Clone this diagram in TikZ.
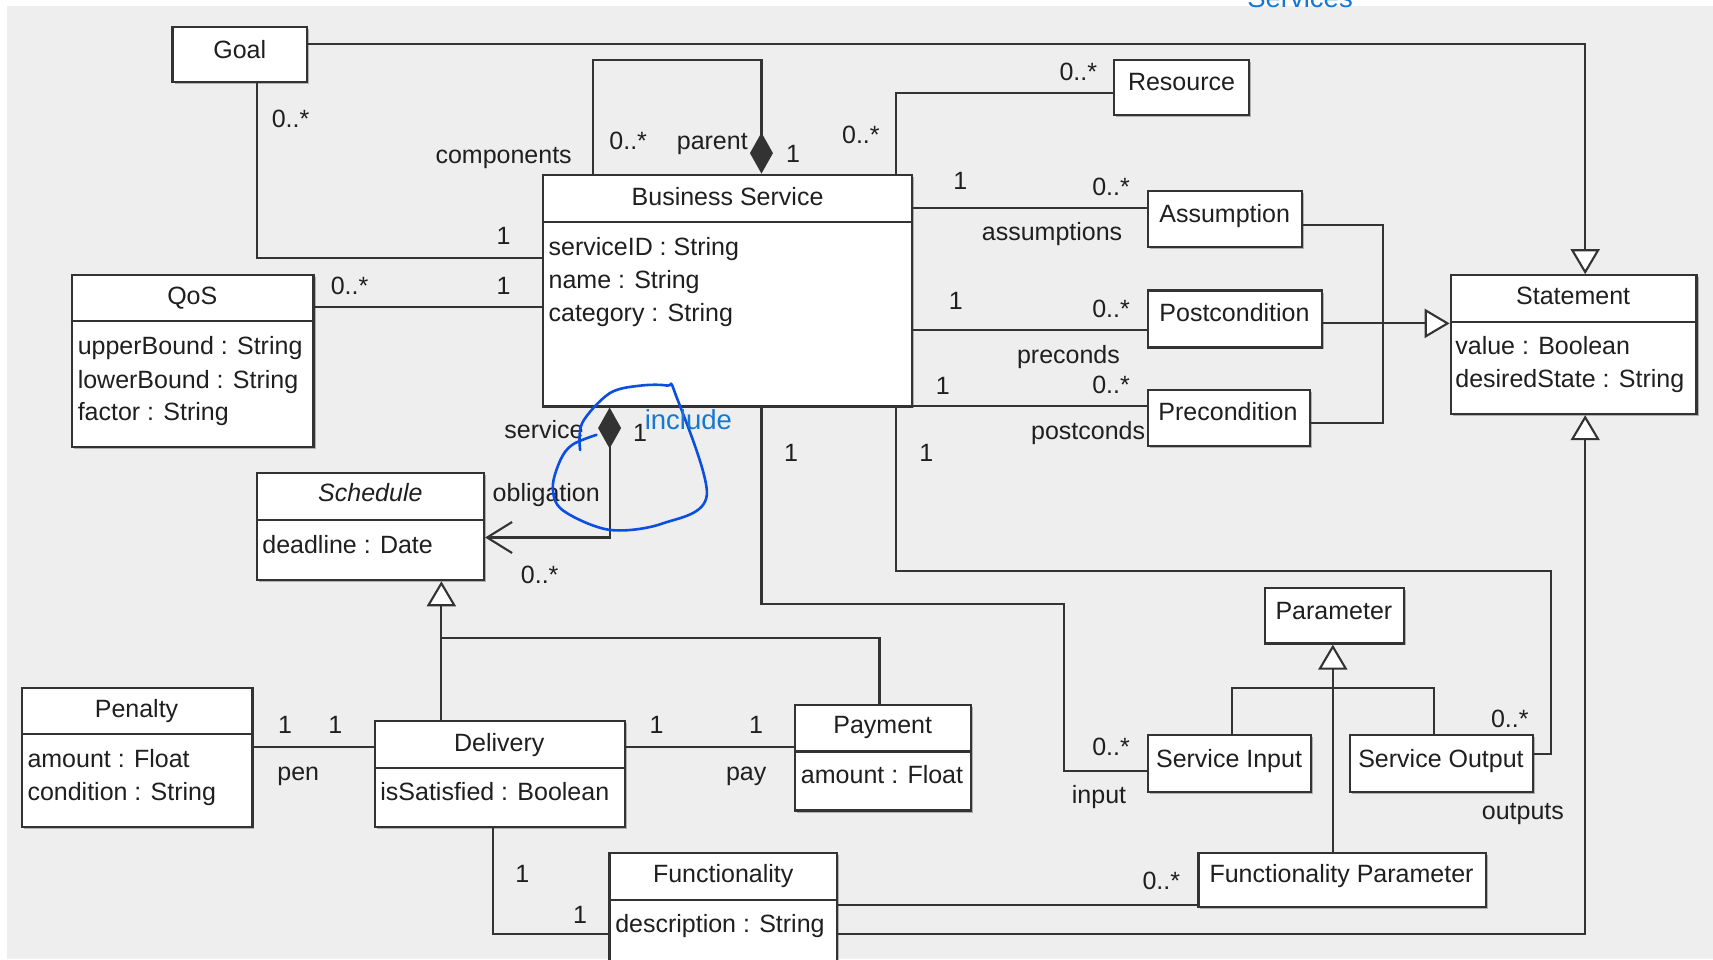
\documentclass[tikz,border=0pt]{standalone}
\usepackage{fontspec}
\setmainfont{Liberation Sans}
\usetikzlibrary{arrows.meta,shadows,fit}
\definecolor{bg}{HTML}{EEEEEE}
\definecolor{ln}{HTML}{333333}
\definecolor{anno}{HTML}{0A4FE0}
\definecolor{annotxt}{HTML}{1478D4}
\tikzset{
  cls/.style={draw=ln, fill=white, line width=2.3pt, inner sep=0pt,
    drop shadow={shadow xshift=2pt, shadow yshift=-2pt, opacity=0.45, fill=black!60}},
  conn/.style={draw=ln, line width=2.1pt},
  sepline/.style={draw=ln, line width=2.3pt},
  lbl/.style={font=\fontsize{25}{30}\selectfont, text=black!88, inner sep=0pt,
    text height=1.42em, text depth=0pt},
  attr/.style={lbl, anchor=west},
  gen/.style={conn, -{Triangle[open, fill=white, length=25pt, width=29pt]}},
  compo/.tip={Diamond[length=41pt, width=23pt]},
  navi/.tip={Straight Barb[length=25pt, width=31pt]},
  annotext/.style={font=\fontsize{27.5}{30}\selectfont, text=annotxt, inner sep=0pt},
}
\newcommand\umlbox[5]{\node[cls, fit={(#2,#3) (#4,#5)}] (#1) {};}
\newcommand\umlsep[2]{\draw[sepline] (#1.west |- 0,#2) -- (#1.east |- 0,#2);}
\newcommand\lb[4]{\node[lbl] (#1) at (#2,#3) {#4};}
\newcommand\at[4]{\node[attr] (#1) at (#2,#3) {#4};}
\begin{document}
\begin{tikzpicture}[x=1.0925pt, y=-1.0925pt]
\useasboundingbox (0,0) rectangle (1568,878);
\clip (0,0) rectangle (1568,878);
\fill[white] (0,0) rectangle (1568,878);
\fill[bg] (6.5,5.5) rectangle (1568,878);

% ---------- boxes ----------
\umlbox{goal}{158}{25}{281}{75}
\umlbox{bs}{497}{160}{835}{372}
\umlbox{res}{1020}{55}{1143}{105}
\umlbox{assum}{1051}{175}{1192}{226}
\umlbox{post}{1051}{266}{1210}{318}
\umlbox{pre}{1051}{357}{1199}{408}
\umlbox{stmt}{1328}{252}{1553}{379}
\umlbox{qos}{66}{252}{287}{409}
\umlbox{sched}{235}{433}{443}{531}
\umlbox{pen}{20}{630}{231}{757}
\umlbox{deliv}{343}{660}{572}{757}
\umlbox{pay}{728}{645}{889}{742}
\umlbox{func}{558}{781}{766}{895}
\umlbox{fparam}{1097}{781}{1360}{830}
\umlbox{param}{1158}{538}{1285}{589}
\umlbox{sin}{1051}{673}{1200}{725}
\umlbox{sout}{1236}{673}{1403}{725}

\umlsep{bs}{203}
\umlsep{stmt}{295}
\umlsep{qos}{294}
\umlsep{sched}{476}
\umlsep{pen}{672}
\umlsep{deliv}{703}
\umlsep{pay}{688}
\umlsep{func}{824}

% ---------- titles ----------
\lb{tgoal}{219.5}{47}{Goal}
\lb{tbs}{666}{182}{Business Service}
\lb{tres}{1081.5}{76}{Resource}
\lb{tassum}{1121}{197}{Assumption}
\lb{tpost}{1130}{288}{Postcondition}
\lb{tpre}{1124}{378}{Precondition}
\lb{tstmt}{1440}{272}{Statement}
\lb{tqos}{176}{272}{QoS}
\node[lbl, font=\fontsize{25}{30}\selectfont\itshape] (tsched) at (339,453) {Schedule};
\lb{tpen}{125}{650}{Penalty}
\lb{tdeliv}{457}{681}{Delivery}
\lb{tpay}{808}{665}{Payment}
\lb{tfunc}{662}{801}{Functionality}
\lb{tfparam}{1228}{801}{Functionality Parameter}
\lb{tparam}{1221}{561}{Parameter}
\lb{tsin}{1125}{696}{Service Input}
\lb{tsout}{1319}{696}{Service Output}

% ---------- attributes ----------
\at{a1}{502}{227}{serviceID : String}
\at{a2}{502}{258}{name : String}
\at{a3}{502}{288}{category : String}
\at{a4}{1332}{318}{value : Boolean}
\at{a5}{1332}{348}{desiredState : String}
\at{a6}{71}{318}{upperBound : String}
\at{a7}{71}{349}{lowerBound : String}
\at{a8}{71}{378}{factor : String}
\at{a9}{240}{500}{deadline : Date}
\at{a10}{25}{696}{amount : Float}
\at{a11}{25}{726}{condition : String}
\at{a12}{348}{726}{isSatisfied : Boolean}
\at{a13}{733}{711}{amount : Float}
\at{a14}{563}{847}{description : String}

% ---------- connectors ----------
\draw[gen] (goal.east |- 0,40) -- (1451,40) -- (stmt.north -| 1451,0);
\draw[conn] (goal.south -| 235,0) |- (bs.west |- 0,236);
\draw[conn, -compo] (bs.north -| 543,0) |- (697,55) -- (bs.north -| 697,0);
\draw[conn] (res.west |- 0,85) -| (bs.north -| 820,0);
\draw[conn] (bs.east |- 0,190) -- (assum.west |- 0,190);
\draw[conn] (bs.east |- 0,302) -- (post.west |- 0,302);
\draw[conn] (bs.east |- 0,372) -- (pre.west |- 0,372);
\draw[conn] (assum.east |- 0,206) -| (1266,296);
\draw[conn] (pre.east |- 0,387) -| (1266,296);
\draw[gen] (post.east |- 0,296) -- (stmt.west |- 0,296);
\draw[gen] (func.east |- 0,855) -| (stmt.south -| 1451,0);
\draw[conn] (qos.east |- 0,281) -- (bs.west |- 0,281);
\draw[conn, compo-navi] (bs.south -| 558,0) |- (sched.east |- 0,492);
\draw[gen] (deliv.north -| 404,0) -- (sched.south -| 404,0);
\draw[conn] (pay.north -| 805,0) |- (404,584);
\draw[conn] (pen.east |- 0,684) -- (deliv.west |- 0,684);
\draw[conn] (deliv.east |- 0,684) -- (pay.west |- 0,684);
\draw[conn] (deliv.south -| 451,0) |- (func.west |- 0,855);
\draw[conn] (func.east |- 0,828) -- (fparam.west |- 0,828);
\draw[gen] (fparam.north -| 1220,0) -- (param.south -| 1220,0);
\draw[conn] (sin.north -| 1128,0) |- (1220,630) -| (sout.north -| 1313,0);
\draw[conn] (bs.south -| 697,0) |- (974,553) |- (sin.west |- 0,706);
\draw[conn] (bs.south -| 820,0) |- (1420,523) |- (sout.east |- 0,690);

% ---------- association labels ----------
\lb{m1}{266}{110}{0..*}
\lb{m2}{461}{217}{1}
\lb{m3}{461}{143}{components}
\lb{m4}{575}{130}{0..*}
\lb{m5}{652}{130}{parent}
\lb{m6}{726}{142}{1}
\lb{m7}{788}{125}{0..*}
\lb{m8}{987}{67}{0..*}
\lb{m9}{879}{167}{1}
\lb{m10}{1017}{172}{0..*}
\lb{m11}{963}{214}{assumptions}
\lb{m12}{875}{277}{1}
\lb{m13}{1017}{284}{0..*}
\lb{m14}{978}{326}{preconds}
\lb{m15}{863}{355}{1}
\lb{m16}{1017}{354}{0..*}
\lb{m17}{996}{396}{postconds}
\lb{m18}{320}{263}{0..*}
\lb{m19}{461}{263}{1}
\lb{m20}{498}{395}{service}
\lb{m21}{586}{398}{1}
\lb{m22}{500}{453}{obligation}
\lb{m23}{494}{528}{0..*}
\lb{m24}{261}{665}{1}
\lb{m25}{307}{665}{1}
\lb{m26}{273}{708}{pen}
\lb{m27}{601}{665}{1}
\lb{m28}{692}{665}{1}
\lb{m29}{683}{708}{pay}
\lb{m30}{478}{801}{1}
\lb{m31}{531}{839}{1}
\lb{m32}{1063}{808}{0..*}
\lb{m33}{724}{416}{1}
\lb{m34}{848}{416}{1}
\lb{m35}{1017}{685}{0..*}
\lb{m36}{1006}{729}{input}
\lb{m37}{1382}{659}{0..*}
\lb{m38}{1394}{744}{outputs}

% ---------- hand annotation ----------
\draw[anno, line width=2.6pt, line cap=round, line join=round]
  plot[smooth, tension=0.55] coordinates {(531,412) (533,387) (558,360) (586,353) (611,353) (618,360) (647,453) (607,479) (558,485) (515,467) (506,446) (513,421) (524,407) (546,398)};
\node[annotext, anchor=west, text height=1.3em, text depth=0pt] (inc) at (590,387) {include};
\node[annotext, anchor=base] (svc) at (1190,7) {Services};
\end{tikzpicture}
\end{document}
